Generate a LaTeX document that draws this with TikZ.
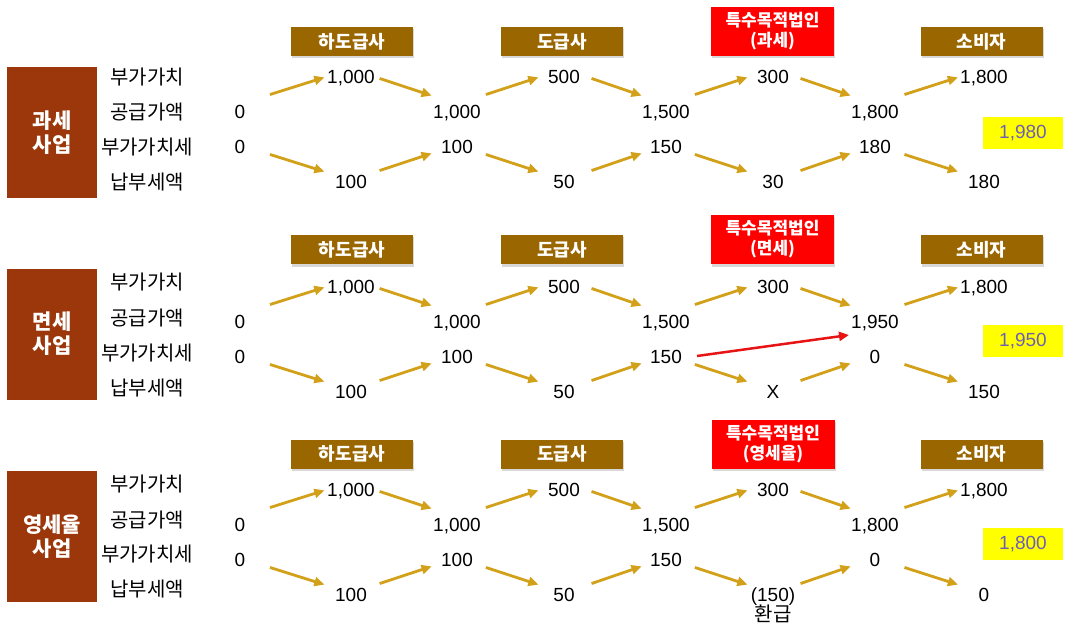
\documentclass[tikz,border=0pt]{standalone}
\usepackage{fontspec}
\setmainfont{Liberation Sans}
\newfontfamily\kr{Noto Sans CJK KR}
\usetikzlibrary{arrows.meta,shadows,calc}
\definecolor{hdr}{RGB}{153,102,0}
\definecolor{rust}{RGB}{155,55,10}
\definecolor{gold}{RGB}{210,160,25}
\definecolor{ylw}{RGB}{255,255,0}
\definecolor{ytxt}{RGB}{110,95,180}
\definecolor{redarr}{RGB}{230,20,20}
\tikzset{
 val/.style={font=\fontsize{19}{21}\selectfont, inner sep=0pt, text height=13.6pt, text depth=0pt},
 lab/.style={font=\kr\fontsize{20}{22}\selectfont, inner sep=0pt},
 hbox/.style={fill=hdr, text=white, font=\kr\bfseries\fontsize{18}{20}\selectfont, minimum width=122pt, minimum height=29pt, inner sep=0pt, drop shadow={shadow xshift=1pt, shadow yshift=-2.5pt, opacity=0.3}},
 rbox/.style={fill=red, text=white, font=\kr\bfseries\fontsize{17}{20}\selectfont, minimum width=123pt, minimum height=49pt, inner sep=0pt, align=center, drop shadow={shadow xshift=1pt, shadow yshift=-2.5pt, opacity=0.3}},
 lbox/.style={fill=rust, text=white, font=\kr\bfseries\fontsize{21}{24}\selectfont, minimum width=90pt, minimum height=131pt, inner sep=0pt, align=center},
 ybox/.style={fill=ylw, text=ytxt, font=\fontsize{19}{21}\selectfont, minimum width=80pt, minimum height=32pt, inner sep=0pt},
 arr/.style={draw=gold, line width=2.8pt, -{Triangle[length=10pt,width=9pt]}},
 rarr/.style={draw=redarr, line width=2.5pt, -{Triangle[length=10pt,width=9pt]}},
}
\begin{document}
\begin{tikzpicture}[x=1pt,y=-1pt]
\fill[white] (0,0) rectangle (1067,628);
\useasboundingbox (0,0) rectangle (1067,628);
% ---------- section 1 ----------
\begin{scope}[shift={(0,0)}]
\node[lbox] (a-box) at (52,132.5) {과세\\사업};
\node[lab] (a-l1) at (147,77) {부가가치};
\node[lab] (a-l2) at (147,112) {공급가액};
\node[lab] (a-l3) at (147,147) {부가가치세};
\node[lab] (a-l4) at (147,182) {납부세액};
\node[hbox] (a-h1) at (352,41.5) {하도급사};
\node[hbox] (a-h2) at (562,41.5) {도급사};
\node[rbox] (a-h3) at (772.5,31.5) {특수목적법인\\(과세)};
\node[hbox] (a-h4) at (981.5,41.5) {소비자};
\node[val] (a-t0) at (240,112) {0};
\node[val] (a-t1) at (351,77) {1,000};
\node[val] (a-t2) at (457,112) {1,000};
\node[val] (a-t3) at (564,77) {500};
\node[val] (a-t4) at (666,112) {1,500};
\node[val] (a-t5) at (773,77) {300};
\node[val] (a-t6) at (875,112) {1,800};
\node[val] (a-t7) at (984,77) {1,800};
\node[val] (a-b0) at (240,147) {0};
\node[val] (a-b1) at (351,182) {100};
\node[val] (a-b2) at (457,147) {100};
\node[val] (a-b3) at (564,182) {50};
\node[val] (a-b4) at (666,147) {150};
\node[val] (a-b5) at (773,182) {30};
\node[val] (a-b6) at (875,147) {180};
\node[val] (a-b7) at (984,182) {180};
\node[ybox] (a-y) at (1023,133) {1,980};
\end{scope}
% ---------- section 2 ----------
\begin{scope}[shift={(0,208)}]
\node[lbox] (b-box) at (52,126) {면세\\사업};
\node[lab] (b-l1) at (147,74) {부가가치};
\node[lab] (b-l2) at (147,110) {공급가액};
\node[lab] (b-l3) at (147,145) {부가가치세};
\node[lab] (b-l4) at (147,180) {납부세액};
\node[hbox] (b-h1) at (352,41.5) {하도급사};
\node[hbox] (b-h2) at (562,41.5) {도급사};
\node[rbox] (b-h3) at (772.5,31.5) {특수목적법인\\(면세)};
\node[hbox] (b-h4) at (981.5,41.5) {소비자};
\node[val] (b-t0) at (240,114) {0};
\node[val] (b-t1) at (351,79) {1,000};
\node[val] (b-t2) at (457,114) {1,000};
\node[val] (b-t3) at (564,79) {500};
\node[val] (b-t4) at (666,114) {1,500};
\node[val] (b-t5) at (773,79) {300};
\node[val] (b-t6) at (875,114) {1,950};
\node[val] (b-t7) at (984,79) {1,800};
\node[val] (b-b0) at (240,149) {0};
\node[val] (b-b1) at (351,184) {100};
\node[val] (b-b2) at (457,149) {100};
\node[val] (b-b3) at (564,184) {50};
\node[val] (b-b4) at (666,149) {150};
\node[val] (b-b5) at (773,184) {X};
\node[val] (b-b6) at (875,149) {0};
\node[val] (b-b7) at (984,184) {150};
\node[ybox] (b-y) at (1023,133) {1,950};
\end{scope}
% ---------- section 3 ----------
\begin{scope}[shift={(0,411)}]
\node[lbox] (c-box) at (52,125.5) {영세율\\사업};
\node[lab] (c-l1) at (147,73) {부가가치};
\node[lab] (c-l2) at (147,109) {공급가액};
\node[lab] (c-l3) at (147,143) {부가가치세};
\node[lab] (c-l4) at (147,178) {납부세액};
\node[hbox] (c-h1) at (352,43) {하도급사};
\node[hbox] (c-h2) at (562,43) {도급사};
\node[rbox] (c-h3) at (773,33) {특수목적법인\\(영세율)};
\node[hbox] (c-h4) at (981.5,43) {소비자};
\node[val] (c-t0) at (240,114) {0};
\node[val] (c-t1) at (351,79) {1,000};
\node[val] (c-t2) at (457,114) {1,000};
\node[val] (c-t3) at (564,79) {500};
\node[val] (c-t4) at (666,114) {1,500};
\node[val] (c-t5) at (773,79) {300};
\node[val] (c-t6) at (875,114) {1,800};
\node[val] (c-t7) at (984,79) {1,800};
\node[val] (c-b0) at (240,149) {0};
\node[val] (c-b1) at (351,184) {100};
\node[val] (c-b2) at (457,149) {100};
\node[val] (c-b3) at (564,184) {50};
\node[val] (c-b4) at (666,149) {150};
\node[val] (c-b5) at (773,184) {(150)};
\node[val] (c-b6) at (875,149) {0};
\node[val] (c-b7) at (984,184) {0};
\node[lab] (c-rf) at (773,203) {환급};
\node[ybox] (c-y) at (1023,133) {1,800};
\end{scope}
% ---------- arrows ----------
\foreach \s in {a,b,c}{
  \foreach \i/\j in {0/1,1/2,2/3,3/4,4/5,5/6,6/7}{
    \draw[arr] ($(\s-t\i)!0.27!(\s-t\j)+(0,-8)$) -- ($(\s-t\i)!0.76!(\s-t\j)+(0,-8)$);
    \draw[arr] ($(\s-b\i)!0.27!(\s-b\j)+(0,-2)$) -- ($(\s-b\i)!0.76!(\s-b\j)+(0,-2)$);
  }
}
\draw[rarr] ([shift={(31,-1)}]b-b4.center) -- ([shift={(-26,13)}]b-t6.center);
\end{tikzpicture}
\end{document}
